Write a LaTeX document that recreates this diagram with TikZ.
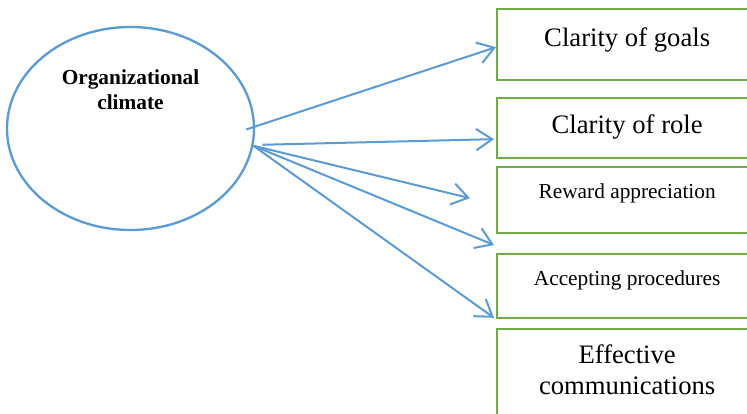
\documentclass[tikz,border=0pt]{standalone}
\usepackage{fontspec}
\setmainfont{Liberation Serif}
\usetikzlibrary{arrows.meta,positioning,calc,shapes.geometric}
\definecolor{linkblue}{RGB}{91,155,213}
\definecolor{boxgreen}{RGB}{112,173,71}

\begin{document}
\begin{tikzpicture}[
    x=0.75pt, y=-0.75pt,
    climate/.style={ellipse, draw=linkblue, line width=1.75pt, minimum width=185.25pt, minimum height=152.25pt, align=center, font=\bfseries\fontsize{16}{18.75}\selectfont},
    factor/.style={rectangle, draw=boxgreen, line width=1.75pt, minimum width=195pt, inner ysep=0pt, align=center},
    big/.style={font=\fontsize{20}{23.25}\selectfont},
    small/.style={font=\fontsize{16}{19}\selectfont},
    link/.style={-{Straight Barb[length=12pt,width=16pt]}, draw=linkblue, line width=1.5pt}
]
\clip (0,0) rectangle (747,414);
% Climate
\node[climate, text height=31pt, text depth=60.25pt] (climate) at (130.5,128.5) {Organizational\\climate};

% Factors
\node[factor, big, anchor=north west, text height=27.75pt, text depth=25.5pt] (goals) at (496,8) {Clarity of goals};
\node[factor, big, below=11.75pt of goals, text height=26.25pt, text depth=18.75pt] (role) {Clarity of role};
\node[factor, small, below=5pt of role, text height=23.25pt, text depth=26.25pt] (reward) {Reward appreciation};
\node[factor, small, below=14pt of reward, text height=23.25pt, text depth=24.75pt] (procedures) {Accepting procedures};
\node[factor, big, below=6.5pt of procedures, text height=48.75pt, text depth=27.75pt] (communication) {Effective\\communications};

% Links
\coordinate (hub) at (climate.-8.6);
\draw[link] ($(climate.east)+(-9,1)$) -- ($(goals.west)+(0,2.5)$);
\draw[link] ($(hub)+(9,-1)$) -- ($(role.west)+(-2,11)$);
\draw[link] (hub) -- ($(reward.west)+(-26,-2)$);
\draw[link] (hub) -- ($(procedures.north west)+(-2,-8)$);
\draw[link] (hub) -- ($(procedures.south west)+(-2,-1.5)$);

\end{tikzpicture}
\end{document}
